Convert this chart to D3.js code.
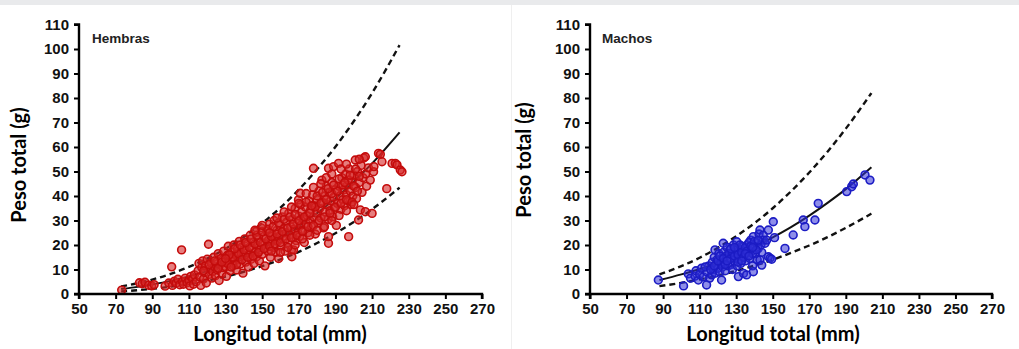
<!DOCTYPE html>
<html><head><meta charset="utf-8">
<script src="https://cdn.jsdelivr.net/npm/d3@7"></script>
<style>
html,body{margin:0;padding:0;background:#fff;}
svg{display:block;}
</style></head>
<body>
<script>
// ---------- DATA ----------
const xTicks = [50,70,90,110,130,150,170,190,210,230,250,270];
const yTicks = [0,10,20,30,40,50,60,70,80,90,100,110];
const panelTitles = ["Hembras","Machos"];
const xTitle = "Longitud total (mm)";
const yTitle = "Peso total (g)";

// Hembras fitted curves
const fCurveL   = [73,80,90,100,110,120,130,140,150,160,170,180,190,200,210,225];
const fMean     = [2.0,2.7,3.9,5.35,7.2,9.4,12.05,15.2,18.8,22.9,27.7,33.0,39.1,45.8,53.3,66.0];
const fUpper    = [3.1,4.1,5.9,8.2,11.05,14.5,18.5,23.3,28.9,35.3,42.6,50.9,60.1,70.5,82.0,101.6];
const fLower    = [1.06,1.43,2.11,2.99,4.09,5.45,7.1,9.07,11.4,14.1,17.2,20.8,24.8,29.4,34.6,43.4];

// Machos fitted curves
const mCurveL   = [88,100,110,120,130,140,150,160,170,180,190,204];
const mMean     = [5.7,8.0,10.2,12.8,15.8,19.2,23.1,27.3,32.0,37.2,42.8,51.7];
const mUpper    = [8.0,11.4,14.8,18.9,23.6,28.9,35.0,41.9,49.6,58.1,67.5,82.0];
const mLower    = [3.2,4.56,5.94,7.56,9.43,11.6,14.0,16.8,19.8,23.2,27.0,32.8];

// Hembras observations [longitud, peso]
const fPoints = [
[73.3,1.6],[83,4.6],[84.5,4.2],[86,4.8],[88,3.6],[89.7,3.3],[91,3.8],[97,3.2],[99,4.5],[100.6,11.1],[101,3.5],[102,5.2],[103,4.4],[104,6.0],[105,3.8],[106,18],[106.5,5.1],[107,4.0],[108,6.5],[109,4.6],[110,5.5],[110.5,3.3],[111,7.2],[112,6.1],[112.5,4.0],[113,7.8],
[114,5.0],[115,9.5],[115.5,12.5],[116,7.0],[116.5,3.5],[117,10.8],[117.5,13.5],[118,6.2],[118.5,8.8],[119,11.5],[119.5,4.5],[120,14.2],[120.7,20.3],[121,8.0],[121.5,10.5],[122,12.8],[122.5,6.5],[123,9.2],[123.5,15.0],[124,11.0],[124.5,7.5],[125,13.0],[125.5,9.8],[126,16.5],[126.5,5.5],[127,12.0],[127.5,14.5],[128,8.5],[128.5,10.8],[129,17.5],[129.5,13.2],[130,11.0],[130.5,7.2],[131,15.8],[131.5,19.5],[132,12.5],[132.5,9.5],
[133,14.8],[133.5,17.2],[134,11.5],[134.5,20.0],[135,13.5],[135.5,16.0],[136,9.8],[136.5,18.5],[137,14.0],[137.5,21.5],[138,12.2],[138.5,16.8],[139,19.2],[139.5,8.5],[140,15.5],[140.5,22.5],[141,13.0],[141.5,17.8],[142,20.5],[142.5,11.0],[143,16.5],[143.5,24.0],[144,14.2],[144.5,18.8],[145,21.0],[145.5,12.5],[146,17.0],[146.5,25.5],[147,15.2],[147.5,19.8],[148,22.2],[148.5,13.5],[149,18.0],[149.5,27.0],[150,16.2],[150.5,20.8],[151,23.5],[151.5,11.5],[152,19.0],
[152.5,25.8],[153,17.5],[153.5,22.0],[154,28.5],[154.5,15.0],[155,21.2],[155.5,24.5],[156,19.0],[156.5,30.0],[157,23.0],[157.5,17.0],[158,26.0],[158.5,21.5],[159,14.5],[159.5,28.0],[160,24.0],[160.5,19.5],[161,31.5],[161.5,22.5],[162,26.8],[162.5,17.5],[163,25.0],[163.5,29.5],[164,21.0],[164.5,33.0],[165,24.2],[165.5,27.5],[166,18.0],[166.2,15.2],[166.5,30.5],[167,23.0],[167.1,18.0],[167.5,26.5],[168,35.0],[168.5,21.8],[169,29.0],[169.5,25.0],[169.8,38.4],[170,31.8],[170.5,23.5],[170.8,41.1],[171,28.0],
[171.5,33.5],[172,26.0],[172.5,30.5],[173,21.0],[173.5,35.5],[174,28.8],[174.5,32.0],[175,25.0],[175.5,38.0],[176,30.0],[176.5,34.5],[177,27.5],[177.5,40.5],[178,51.3],[178,31.5],[178.5,36.0],[179,24.5],[179.5,33.0],[180,38.5],[180.5,29.0],[181,42.0],[181.5,35.0],[182,31.0],[182.6,46.5],[183,37.5],[183.5,27.0],[184,40.0],[184.5,33.5],[185,44.0],[185.5,36.5],[186,30.5],[186.2,20.7],[186.2,23.4],[186.2,51.3],[186.5,41.5],[187,34.0],[187.5,38.0],[188,45.5],[188.5,31.5],[189,52.0],[189,39.5],[189.5,35.0],[190,42.5],[190.5,28.0],
[191,37.0],[191.7,53.3],[192,44.0],[192.5,40.0],[193,34.5],[193.5,47.5],[194,38.5],[194.5,42.5],[195,36.0],[195.5,49.0],[196,40.5],[196.5,44.5],[197,38.0],[197.2,23.4],[197.5,51.0],[198,42.0],[198.5,36.5],[199,46.0],[199.5,40.0],[200,48.5],[200.8,54.7],[201,43.5],[201.5,39.0],[202,50.0],[202.6,30.2],[203,45.5],[203.6,34.3],[204,52.5],[204.5,41.5],[205,47.5],[205.5,55.5],[206.3,56.0],[206.3,33.6],[206.5,49.0],[207,44.0],[208,51.5],[209,46.5],[210,32.9],[210.8,49.9],[211,52.0],[213.5,57.4],[214.5,57.0],[215.4,54.0],[218,43.0],[220.9,53.3],[222.7,53.3],[223.6,52.7],[225.4,50.6],[226.3,49.9],
[131,12.5],[134,15.0],[137,16.5],[140,18.0],[143,19.0],[146,20.5],[149,21.0],[152,22.5],[155,23.5],[158,24.5],[161,25.5],[164,27.0],[167,28.5],[170,30.0],[173,31.5],[176,33.0],[179,35.5],[182,37.0],[185,38.5],[188,41.0],[191,42.0],[194,44.5],[197,46.5],[200,44.0],[203,48.0],
[132,16.0],[135,18.5],[138,20.0],[141,21.0],[144,22.5],[147,24.0],[150,25.5],[153,26.5],[156,27.5],[159,29.0],[162,30.5],[165,31.5],[168,32.5],[171,36.5],[174,37.5],[177,36.0],[180,40.0],[183,41.5],[186,43.0],[189,44.5],[192,47.0],[195,45.5],[198,48.5],[201,51.0],
[136,12.0],[139,14.0],[142,15.0],[145,15.5],[148,17.0],[151,18.5],[154,19.5],[157,20.5],[160,21.0],[163,22.5],[166,23.0],[169,24.0],[172,25.5],[175,27.5],[178,28.0],[181,30.0],[184,31.5],[187,33.0],[190,35.5],[193,37.0],[196,38.5],[199,37.5],[202,42.0],
[118,9.5],[121,12.0],[124,13.5],[126,10.5],[128,13.0],[130,14.5],[133,11.0],[146,26.0],[150,28.0],[154,25.0],[158,31.0],[162,33.5],[166,35.5],[170,37.0],[174,41.0],[178,43.5],[182,45.0],[185,47.5],[188,49.0],[193,51.0],[196,53.0],[203,55.0],
[155,17.5],[160,17.0],[164,19.0],[168,20.0],[172,22.5],[176,24.0],[180,26.0],[184,27.5],[188,30.0],[192,32.0],[196,34.0],[200,36.5]
];

// Machos observations [longitud, peso]
const mPoints = [
[87.4,5.7],[101.2,3.3],[103.8,8.2],[105,6.5],[107.5,7.3],[108,9.5],[109.3,5.7],[110,8.0],[111,10.5],[112,7.0],[113.8,3.7],[114,9.0],[115,11.5],[115.5,6.5],[116.6,7.8],[117,13.0],[117.5,10.0],[118,15.0],[118.4,18],[118.5,8.5],[119,12.0],[119.5,14.0],[120,10.5],[120.5,16.5],[121,9.0],[121.5,12.5],[122,5.7],[122,14.5],[122.5,11.0],[122.9,20.7],[123,17.0],[123.5,13.0],[124,9.5],[124.5,15.5],[125,19.0],[125.5,11.5],[126,14.0],[126.6,18],[127,12.0],[127.5,16.0],[128,10.0],[128.5,20.0],[129,13.5],[129.5,17.0],[130,15.0],[130.3,21.3],[130.5,11.5],[131,18.5],[131.2,7.1],[131.5,14.0],[132,16.5],[132.5,12.5],[133,19.5],[133.5,15.5],[133.9,19.3],[134,8.4],[134.5,17.0],[135,13.5],[135.7,7.8],[136,20.0],[136.5,16.0],[137,18.0],[137.5,14.5],[138,22.0],[138.5,17.5],[139,11.5],[139.4,23.4],[139.4,9.1],[140,19.5],[140.5,16.5],[141,21.0],[141.5,14.0],[142,18.5],[142.5,24.5],[143,26.1],[143,13.9],[143.5,20.0],[144,11.8],[144,17.0],[144.8,24.0],[145,22.0],[145.8,20.7],[146.7,22.0],[147.6,26.1],[147.6,15.2],[148.5,14.6],[149.4,14.2],[150.3,29.5],[151,23.0],
[113,11.0],[116,10.0],[118,11.5],[120,13.5],[121,15.5],[123,14.5],[124,12.0],[126,16.5],[127,14.5],[128,17.0],[129,15.5],[130,18.0],[131,16.0],[132,20.0],[133,17.0],[134,15.0],[135,19.0],[136,17.5],[137,21.0],[138,19.5],[139,16.5],[140,21.5],[141,18.0],[142,22.0],[125,13.5],[127,18.5],[129,19.0],[131,13.0],[133,13.5],[135,16.5],[137,15.5],[139,19.0],
[156.7,18.6],[161.2,24.1],[166.7,30.2],[167.6,27.5],[173.1,30.2],[174.9,37],[190.5,41.8],[193.2,43.8],[194.1,44.9],[200.5,48.6],[203.2,46.5]
];

// ---------- DRAW ----------
const W = 1019, H = 349;
const svg = d3.select("body").append("svg").attr("width", W).attr("height", H);

// light frame strip at top and faint divider (photo background)
svg.append("rect").attr("x",0).attr("y",0).attr("width",W).attr("height",5).attr("fill","#e9eaec");
svg.append("line").attr("x1",511.5).attr("x2",511.5).attr("y1",5).attr("y2",H).attr("stroke","#efefef").attr("stroke-width",1);

const panels = [
  {x0:79, x1:482, title:panelTitles[0], titleX:92, yTitleX:19, yTitleY:165, xTitleX:280,
   L:fCurveL, mean:fMean, up:fUpper, lo:fLower, pts:fPoints, stroke:"#c40c0c", fill:"rgba(214,40,40,0.6)"},
  {x0:590, x1:992, title:panelTitles[1], titleX:602, yTitleX:524, yTitleY:160, xTitleX:773,
   L:mCurveL, mean:mMean, up:mUpper, lo:mLower, pts:mPoints, stroke:"#1c1cc4", fill:"rgba(50,50,215,0.55)"}
];

const yTop = 24.5, yBot = 294;
const tickFont = "'Liberation Sans', Arial, sans-serif";
const titleFont = "'Lato', 'Noto Sans', sans-serif";

panels.forEach(p => {
  const x = d3.scaleLinear().domain([50,270]).range([p.x0, p.x1]);
  const y = d3.scaleLinear().domain([0,110]).range([yBot, yTop]);
  const g = svg.append("g");

  // curves (under the points)
  const line = d3.line().curve(d3.curveMonotoneX).x(d => x(d[0])).y(d => y(d[1]));
  const mk = arr => p.L.map((l,i) => [l, arr[i]]);
  g.append("path").attr("d", line(mk(p.mean))).attr("fill","none").attr("stroke","#111").attr("stroke-width",2);
  [p.up, p.lo].forEach(a => {
    g.append("path").attr("d", line(mk(a))).attr("fill","none").attr("stroke","#111")
      .attr("stroke-width",2.4).attr("stroke-dasharray","6,4");
  });

  // points
  g.append("g").selectAll("circle").data(p.pts).join("circle")
    .attr("cx", d => x(d[0])).attr("cy", d => y(d[1])).attr("r", 3.9)
    .attr("fill", p.fill).attr("stroke", p.stroke).attr("stroke-width", 1.6);

  // axes
  const xAxis = d3.axisBottom(x).tickValues(xTicks).tickSize(5).tickPadding(4).tickFormat(d3.format("d"));
  const yAxis = d3.axisLeft(y).tickValues(yTicks).tickSize(5).tickPadding(5).tickFormat(d3.format("d"));
  const gx = g.append("g").attr("transform", `translate(0,${yBot})`).call(xAxis);
  const gy = g.append("g").attr("transform", `translate(${p.x0},0)`).call(yAxis);
  [gx, gy].forEach(a => {
    a.select(".domain").attr("stroke","#000").attr("stroke-width",2.4);
    a.selectAll(".tick line").attr("stroke","#000").attr("stroke-width",2);
    a.selectAll(".tick text").attr("fill","#111").style("font-family", tickFont)
      .style("font-size","15px").style("font-weight","bold");
  });
  gx.select(".domain").attr("d", `M${p.x0},5V0H${p.x1}V5`);
  gy.select(".domain").attr("d", `M-5,${yTop}H0V${yBot}H-5`);

  // panel label
  g.append("text").attr("x", p.titleX).attr("y", 43).text(p.title)
    .style("font-family", tickFont).style("font-size","13.5px").style("font-weight","bold").attr("fill","#222");

  // axis titles
  g.append("text").attr("x", p.xTitleX).attr("y", 341).attr("text-anchor","middle").text(xTitle)
    .style("font-family", titleFont).style("font-size","20px").style("font-weight","bold").attr("fill","#000");
  g.append("text").attr("transform", `translate(${p.yTitleX + 7},${p.yTitleY}) rotate(-90)`)
    .attr("text-anchor","middle").text(yTitle)
    .style("font-family", titleFont).style("font-size","20px").style("font-weight","bold").attr("fill","#000");
});
</script>
</body></html>
